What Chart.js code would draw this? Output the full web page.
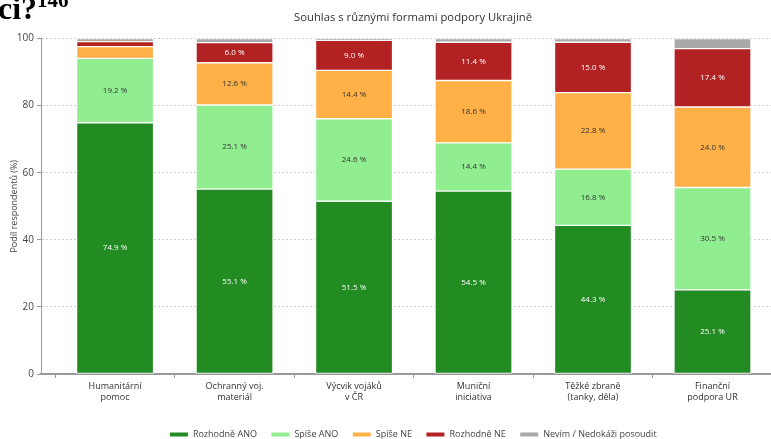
<!DOCTYPE html>
<html>
<head>
<meta charset="utf-8">
<script src="https://cdn.jsdelivr.net/npm/chart.js@4.4.1/dist/chart.umd.min.js"></script>
<style>
  html, body { margin: 0; padding: 0; background: #fff; overflow: hidden; }
  #wrap { position: relative; width: 826px; height: 449px; }
  #heading {
    position: absolute; left: -2px; top: -8px;
    font: bold 32px "Liberation Serif", serif; line-height: 32px; color: #000;
    white-space: nowrap;
  }
  #heading span { font-size: 21px; position: relative; top: -12px; }
</style>
</head>
<body>
<div id="wrap">
  <canvas id="chart" width="826" height="449"></canvas>
  <div id="heading">ci?<span>146</span></div>
</div>
<script>
const categories = [
  ["Humanitární", "pomoc"],
  ["Ochranný voj.", "materiál"],
  ["Výcvik vojáků", "v ČR"],
  ["Muniční", "iniciativa"],
  ["Těžké zbraně", "(tanky, děla)"],
  ["Finanční", "podpora UR"]
];
const rozhodneAno = [74.9, 55.1, 51.5, 54.5, 44.3, 25.1];
const spiseAno = [19.2, 25.1, 24.6, 14.4, 16.8, 30.5];
const spiseNe = [3.5, 12.6, 14.4, 18.6, 22.8, 24.0];
const rozhodneNe = [1.5, 6.0, 9.0, 11.4, 15.0, 17.4];
const nevim = [0.9, 1.2, 0.5, 1.1, 1.1, 3.0];
const yTicks = [0, 20, 40, 60, 80, 100];

const series = [
  { label: "Rozhodně ANO", values: rozhodneAno, color: "#228B22", text: "#ffffff" },
  { label: "Spíše ANO", values: spiseAno, color: "#90EE90", text: "#333333" },
  { label: "Spíše NE", values: spiseNe, color: "#FFB046", text: "#333333" },
  { label: "Rozhodně NE", values: rozhodneNe, color: "#B22222", text: "#ffffff" },
  { label: "Nevím / Nedokáži posoudit", values: nevim, color: "#A9A9A9", text: "#333333" }
];

const FONT = "'Open Sans', sans-serif";

// value labels in the middle of each segment (only for big enough ones)
const segmentLabels = {
  id: "segmentLabels",
  afterDatasetsDraw(chart) {
    const ctx = chart.ctx;
    ctx.save();
    ctx.font = "8px " + FONT;
    ctx.textAlign = "center";
    ctx.textBaseline = "middle";
    chart.data.datasets.forEach((ds, di) => {
      const meta = chart.getDatasetMeta(di);
      meta.data.forEach((bar, i) => {
        const v = ds.data[i].y;
        if (v < 5) return;
        ctx.fillStyle = series[di].text;
        ctx.fillText(v.toFixed(1) + " %", bar.x, (bar.y + bar.base) / 2);
      });
    });
    ctx.restore();
  }
};

new Chart(document.getElementById("chart"), {
  type: "bar",
  data: {
    datasets: series.map(s => ({
      label: s.label,
      data: s.values.map((v, i) => ({ x: i, y: v })),
      backgroundColor: s.color,
      borderColor: "#ffffff",
      borderWidth: 1,
      borderSkipped: false,
      barThickness: 77
    }))
  },
  options: {
    responsive: false,
    animation: false,
    layout: { padding: 0 },
    plugins: {
      title: {
        display: true,
        text: "Souhlas s různými formami podpory Ukrajině",
        color: "#333333",
        font: { family: FONT, size: 11.3, weight: "normal" },
        padding: { top: 11, bottom: 14 }
      },
      legend: {
        position: "bottom",
        labels: {
          boxWidth: 19,
          boxHeight: 5,
          color: "#444444",
          font: { family: FONT, size: 9 },
          padding: 14
        }
      },
      tooltip: { enabled: false }
    },
    scales: {
      x: {
        type: "linear",
        offset: false,
        stacked: true,
        min: -0.62,
        max: 5.95,
        afterBuildTicks: scale => {
          scale.ticks = categories.map((c, i) => ({ value: i }));
        },
        afterFit: scale => { scale.height = 42; },
        ticks: {
          autoSkip: false,
          maxRotation: 0,
          color: "#333333",
          font: { family: FONT, size: 9 },
          padding: 3,
          callback: v => categories[v]
        },
        grid: { drawOnChartArea: false, drawTicks: true, tickLength: 4, color: "#999999" },
        border: { display: true, color: "#999999", width: 2 }
      },
      y: {
        stacked: true,
        min: 0,
        max: 100,
        afterBuildTicks: scale => {
          scale.ticks = yTicks.map(v => ({ value: v }));
        },
        afterFit: scale => { scale.width = 41; },
        title: {
          display: true,
          text: "Podíl respondentů (%)",
          color: "#444444",
          font: { family: FONT, size: 9 },
          padding: { top: 9, bottom: 0 }
        },
        ticks: {
          color: "#444444",
          font: { family: FONT, size: 10 },
          padding: 3
        },
        grid: {
          color: "#d0d0d0",
          tickColor: "#999999",
          tickLength: 4,
          tickBorderDash: []
        },
        border: { display: true, color: "#999999", width: 1, dash: [2, 2] }
      }
    }
  },
  plugins: [segmentLabels]
});
</script>
</body>
</html>
